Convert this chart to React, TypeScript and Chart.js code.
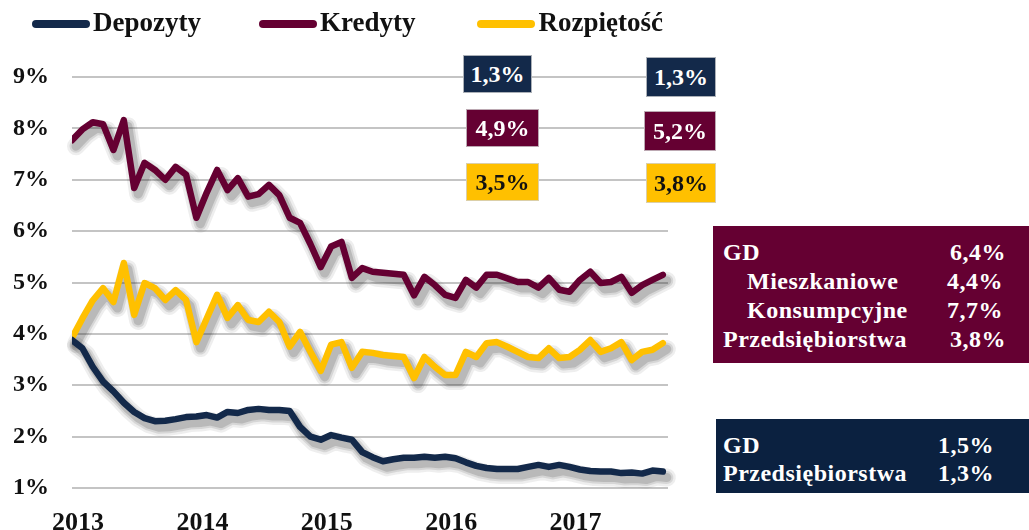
import React, { useEffect, useRef } from "react";
import { Chart, registerables } from "chart.js";

Chart.register(...registerables);

// ---- data ----
const seriesNames = ["Depozyty", "Kredyty", "Rozpiętość"];
const seriesColors = ["#13294a", "#650032", "#ffc000"];

const yearLabels = ["2013", "2014", "2015", "2016", "2017"];
const yearTickIndex = [0, 12, 24, 36, 48];

const depozyty = [
  3.88, 3.72, 3.36, 3.07, 2.88, 2.66, 2.48, 2.36, 2.3, 2.31, 2.34, 2.38,
  2.39, 2.42, 2.37, 2.48, 2.46, 2.52, 2.54, 2.52, 2.52, 2.5, 2.19, 2.0,
  1.94, 2.03, 1.98, 1.94, 1.7, 1.6, 1.52, 1.56, 1.59, 1.59, 1.61, 1.59,
  1.61, 1.58, 1.5, 1.43, 1.39, 1.37, 1.37, 1.37, 1.41, 1.45, 1.41, 1.45,
  1.41, 1.36, 1.33, 1.32, 1.32, 1.29, 1.3, 1.28, 1.34, 1.32,
];
const kredyty = [
  7.77, 7.98, 8.12, 8.08, 7.58, 8.16, 6.84, 7.33, 7.19, 7.0, 7.25, 7.1,
  6.26, 6.75, 7.19, 6.8, 7.03, 6.67, 6.72, 6.9, 6.7, 6.26, 6.16, 5.75,
  5.3, 5.7, 5.79, 5.09, 5.28, 5.21, 5.19, 5.17, 5.15, 4.75, 5.11, 4.95,
  4.76, 4.7, 5.05, 4.9, 5.15, 5.15, 5.08, 5.01, 5.01, 4.9, 5.09, 4.86,
  4.82, 5.05, 5.21, 4.99, 5.01, 5.11, 4.8, 4.95, 5.05, 5.15,
];
const rozpietosc = [
  3.92, 4.3, 4.65, 4.89, 4.62, 5.38, 4.37, 4.99, 4.89, 4.66, 4.85, 4.66,
  3.84, 4.3, 4.76, 4.31, 4.56, 4.27, 4.23, 4.43, 4.23, 3.75, 4.04, 3.65,
  3.28, 3.79, 3.84, 3.34, 3.65, 3.63, 3.59, 3.57, 3.55, 3.14, 3.55, 3.36,
  3.2, 3.2, 3.65, 3.55, 3.82, 3.84, 3.75, 3.65, 3.55, 3.53, 3.72, 3.53,
  3.55, 3.69, 3.88, 3.65, 3.72, 3.84, 3.49, 3.65, 3.69, 3.82,
];
const seriesData = [depozyty, kredyty, rozpietosc];

const yTicks = [1, 2, 3, 4, 5, 6, 7, 8, 9];

// small value badges (two columns)
const badgeColumnA = ["1,3%", "4,9%", "3,5%"];
const badgeColumnB = ["1,3%", "5,2%", "3,8%"];

// right-hand boxes
const creditBoxLabels = ["GD", "Mieszkaniowe", "Konsumpcyjne", "Przedsiębiorstwa"];
const creditBoxIndent = [false, true, true, false];
const creditBoxValues = ["6,4%", "4,4%", "7,7%", "3,8%"];
const depositBoxLabels = ["GD", "Przedsiębiorstwa"];
const depositBoxValues = ["1,5%", "1,3%"];

const FONT = "'Liberation Serif', 'Times New Roman', serif";

// soft drop shadow under each line, traced through the points Chart.js computed
const shadowPlugin = {
  id: "lineShadowPlugin",
  beforeDatasetsDraw(chart: any) {
    const c = chart.ctx;
    c.save();
    c.lineJoin = "round";
    c.lineCap = "round";
    const layers = [
      { w: 18, a: 0.08 },
      { w: 13, a: 0.12 },
      { w: 9, a: 0.17 },
    ];
    for (let di = 0; di < chart.data.datasets.length; di++) {
      const pts = chart.getDatasetMeta(di).data || [];
      for (const l of layers) {
        c.beginPath();
        for (let i = 0; i < pts.length; i++) {
          const x = pts[i].x + 4;
          const y = pts[i].y + 6;
          if (i === 0) c.moveTo(x, y);
          else c.lineTo(x, y);
        }
        c.lineWidth = l.w;
        c.strokeStyle = "rgba(40,40,40," + l.a + ")";
        c.stroke();
      }
    }
    c.restore();
  },
};

function ChartCanvas() {
  const ref = useRef<HTMLCanvasElement>(null);
  useEffect(() => {
    if (!ref.current) return;
    const chart = new Chart(ref.current, {
      type: "line",
      data: {
        datasets: seriesNames.map((name, s) => ({
          label: name,
          data: seriesData[s].map((v, i) => ({ x: i, y: v })),
          borderColor: seriesColors[s],
          backgroundColor: seriesColors[s],
          borderWidth: 6.5,
          pointRadius: 0,
          tension: 0,
          borderJoinStyle: "round",
          borderCapStyle: "round",
        })),
      },
      options: {
        animation: false,
        responsive: false,
        layout: { padding: { top: 77, right: 12, bottom: 0, left: 0 } },
        plugins: { legend: { display: false }, tooltip: { enabled: false } },
        scales: {
          x: {
            type: "linear",
            min: 0,
            max: 57.5,
            grid: { display: false },
            border: { display: false },
            afterBuildTicks: (axis: any) => {
              axis.ticks = yearTickIndex.map((v) => ({ value: v }));
            },
            afterFit: (scale: any) => {
              scale.height = 42;
            },
            ticks: {
              autoSkip: false,
              maxRotation: 0,
              padding: 12,
              labelOffset: 6,
              color: "#111",
              font: { family: FONT, size: 26, weight: "bold" },
              callback: (value: any) => {
                const k = yearTickIndex.indexOf(Number(value));
                return k >= 0 ? yearLabels[k] : "";
              },
            },
          },
          y: {
            min: 1,
            max: 9,
            afterBuildTicks: (axis: any) => {
              axis.ticks = yTicks.map((v) => ({ value: v }));
            },
            afterFit: (scale: any) => {
              scale.width = 72;
            },
            grid: { color: "#c4c4c4", lineWidth: 2, drawTicks: false },
            border: { display: false },
            ticks: {
              padding: 23,
              color: "#111",
              font: { family: FONT, size: 24, weight: "bold" },
              callback: (value: any) => `${value}%`,
            },
          },
        },
      },
      plugins: [shadowPlugin],
    } as any);
    return () => chart.destroy();
  }, []);
  return <canvas ref={ref} width={680} height={530} style={{ position: "absolute", left: 0, top: 0 }} />;
}

const badgeStyle = (bg: string, fg: string, left: number, top: number, w: number, h: number): React.CSSProperties => ({
  position: "absolute",
  left,
  top,
  width: w,
  height: h,
  background: bg,
  color: fg,
  display: "flex",
  alignItems: "center",
  justifyContent: "center",
  fontFamily: FONT,
  fontWeight: "bold",
  fontSize: 24,
  boxSizing: "border-box",
  border: "1px solid rgba(210,210,210,0.8)",
});

export default function App() {
  const badgeBg = [seriesColors[0], seriesColors[1], seriesColors[2]];
  const badgeFg = ["#fff", "#fff", "#111"];
  const colATops = [55, 109, 163];
  const colBTops = [57, 111, 163];
  return (
    <div
      style={{
        position: "fixed",
        left: 0,
        top: 0,
        width: 1029,
        height: 530,
        background: "#fff",
        overflow: "hidden",
      }}
    >
      <ChartCanvas />
      <div style={{ position: "absolute", left: 32, top: 7, display: "flex", alignItems: "center" }}>
        {seriesNames.map((name, i) => (
          <div key={name} style={{ display: "flex", alignItems: "center", marginRight: i === 0 ? 58 : 62 }}>
            <span
              style={{
                display: "inline-block",
                width: 58,
                height: 8,
                borderRadius: 4,
                background: seriesColors[i],
                marginRight: 3,
                marginTop: 4,
              }}
            />
            <span style={{ fontFamily: FONT, fontWeight: "bold", fontSize: 27, lineHeight: "30px", color: "#111" }}>
              {name}
            </span>
          </div>
        ))}
      </div>
      {badgeColumnA.map((t, i) => (
        <div key={"a" + i} style={badgeStyle(badgeBg[i], badgeFg[i], i === 0 ? 463 : 466, colATops[i], i === 0 ? 69 : 73, 38)}>
          {t}
        </div>
      ))}
      {badgeColumnB.map((t, i) => (
        <div key={"b" + i} style={badgeStyle(badgeBg[i], badgeFg[i], i === 1 ? 644 : 646, colBTops[i], i === 1 ? 72 : 70, 40)}>
          {t}
        </div>
      ))}
      <div
        style={{
          position: "absolute",
          left: 713,
          top: 226,
          width: 316,
          height: 137,
          background: "#650032",
          color: "#fff",
          fontFamily: FONT,
          fontWeight: "bold",
          fontSize: 24,
          letterSpacing: 0.5,
          boxSizing: "border-box",
          paddingTop: 12,
        }}
      >
        {creditBoxLabels.map((l, i) => (
          <div key={l} style={{ position: "relative", height: 29, lineHeight: "29px" }}>
            <span style={{ position: "absolute", left: creditBoxIndent[i] ? 34 : 10 }}>{l}</span>
            <span style={{ position: "absolute", left: creditBoxIndent[i] ? 234 : 237 }}>{creditBoxValues[i]}</span>
          </div>
        ))}
      </div>
      <div
        style={{
          position: "absolute",
          left: 716,
          top: 419,
          width: 313,
          height: 74,
          background: "#0b2140",
          color: "#fff",
          fontFamily: FONT,
          fontWeight: "bold",
          fontSize: 24,
          letterSpacing: 0.5,
          boxSizing: "border-box",
          paddingTop: 12,
        }}
      >
        {depositBoxLabels.map((l, i) => (
          <div key={l} style={{ position: "relative", height: 28, lineHeight: "28px" }}>
            <span style={{ position: "absolute", left: 7 }}>{l}</span>
            <span style={{ position: "absolute", left: 222 }}>{depositBoxValues[i]}</span>
          </div>
        ))}
      </div>
    </div>
  );
}
